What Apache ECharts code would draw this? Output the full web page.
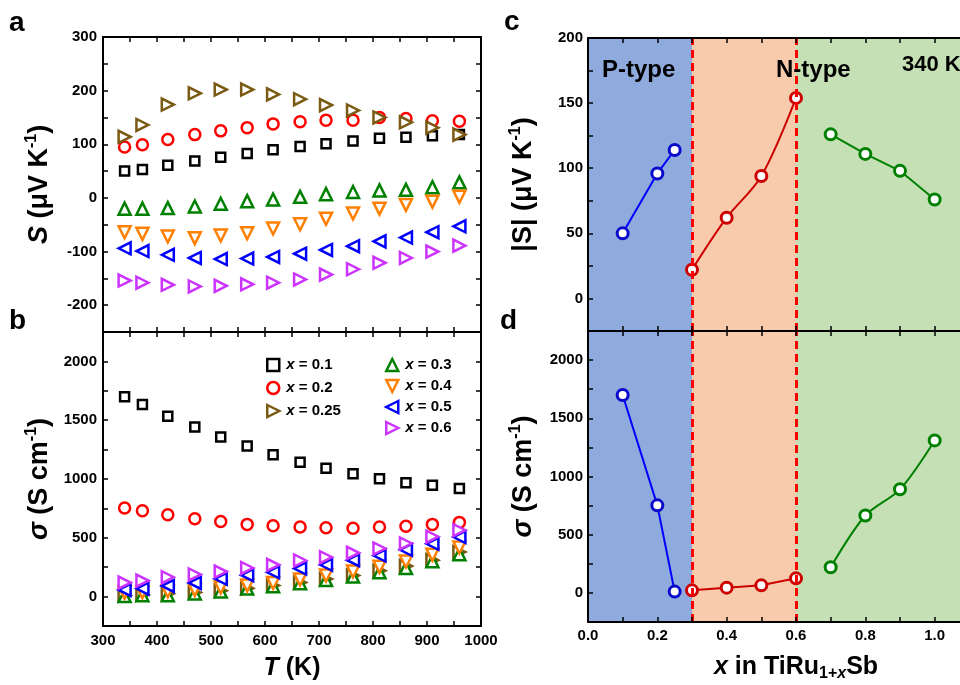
<!DOCTYPE html>
<html>
<head>
<meta charset="utf-8">
<script src="https://cdn.jsdelivr.net/npm/echarts@6/dist/echarts.min.js"></script>
<style>
  html, body { margin: 0; padding: 0; background: #ffffff; }
  #chart { width: 960px; height: 685px; }
</style>
</head>
<body>
<div id="chart"></div>
<script>
// Measurement temperatures (K)
const temperatureK = [340, 373, 420, 470, 518, 567, 615, 665, 713, 763, 812, 861, 910, 960];

// Seebeck coefficient S (μV K^-1) for each composition x
const seebeckX010 = [50, 53, 61, 69, 76, 83, 90, 96, 101, 106, 111, 113, 116, 118];
const seebeckX020 = [95, 99, 109, 118, 125, 131, 138, 142, 145, 145, 150, 148, 144, 143];
const seebeckX025 = [114, 136, 174, 195, 202, 202, 193, 184, 173, 163, 150, 141, 131, 118];
const seebeckX030 = [-20, -20, -19, -16, -11, -6, -3, 2, 7, 11, 14, 15, 20, 29];
const seebeckX040 = [-64, -67, -72, -75, -70, -66, -57, -49, -39, -29, -20, -13, -7, 2];
const seebeckX050 = [-94, -99, -106, -112, -114, -113, -110, -104, -97, -90, -81, -74, -64, -53];
const seebeckX060 = [-154, -158, -162, -165, -164, -161, -158, -152, -143, -133, -121, -112, -100, -89];

// Electrical conductivity σ (S cm^-1) for each composition x
const sigmaX010 = [1699, 1634, 1534, 1443, 1358, 1281, 1207, 1142, 1091, 1045, 1003, 969, 946, 920];
const sigmaX020 = [753, 730, 696, 662, 639, 614, 602, 591, 585, 582, 591, 599, 614, 631];
const sigmaX025 = [10, 15, 25, 35, 50, 70, 95, 120, 150, 180, 220, 260, 310, 380];
const sigmaX030 = [6, 11, 11, 26, 43, 68, 88, 114, 142, 170, 207, 244, 301, 361];
const sigmaX040 = [34, 37, 45, 57, 77, 94, 116, 145, 179, 213, 253, 298, 355, 418];
const sigmaX050 = [57, 68, 91, 116, 151, 182, 207, 239, 270, 310, 349, 398, 449, 506];
const sigmaX060 = [119, 136, 165, 188, 213, 244, 270, 307, 335, 372, 409, 452, 509, 565];

// 340 K values versus composition
const compP = [0.1, 0.2, 0.25];
const compN1 = [0.3, 0.4, 0.5, 0.6];
const compN2 = [0.7, 0.8, 0.9, 1.0];
const absS340P = [50, 96, 114];
const absS340N1 = [22, 62, 94, 154];
const absS340N2 = [126, 111, 98, 76];
const sigma340P = [1700, 752, 11];
const sigma340N1 = [22, 45, 65, 125];
const sigma340N2 = [220, 665, 890, 1310];

// Regions and boundaries along x
const regionP = [0, 0.3];
const regionN1 = [0.3, 0.6];
const regionN2 = [0.6, 1.2];
const boundaries = [0.3, 0.6];

const seriesNames = ['x = 0.1', 'x = 0.2', 'x = 0.25', 'x = 0.3', 'x = 0.4', 'x = 0.5', 'x = 0.6'];
const seebeckSets = [seebeckX010, seebeckX020, seebeckX025, seebeckX030, seebeckX040, seebeckX050, seebeckX060];
const sigmaSets = [sigmaX010, sigmaX020, sigmaX025, sigmaX030, sigmaX040, sigmaX050, sigmaX060];

const FONT = '"Liberation Sans", Arial, Helvetica, sans-serif';
const markerColors = ['#000000', '#ff0000', '#7a5a12', '#008000', '#ff8000', '#0000ff', '#cc33ff'];
const markerShapes = ['rect', 'circle', 'triangle', 'triangle', 'triangle', 'triangle', 'triangle'];
const markerRotate = [0, 0, -90, 0, 180, 90, -90];
const markerSizes = [9, 11, 12, 12, 12, 12, 12];
// Legend icons drawn in the same orientation as the plotted markers
const legendIcons = [
  'path://M0,0 L10,0 L10,10 L0,10 Z',
  'circle',
  'path://M0,0 L10,5 L0,10 Z',
  'path://M5,0 L10,10 L0,10 Z',
  'path://M0,0 L10,0 L5,10 Z',
  'path://M10,0 L0,5 L10,10 Z',
  'path://M0,0 L10,5 L0,10 Z'
];
const legendIconSizes = [10, 12, 12, 12, 12, 12, 12];

const chart = echarts.init(document.getElementById('chart'), null, { renderer: 'canvas' });

const tickLabelStyle = { color: '#000', fontFamily: FONT, fontWeight: 'bold', fontSize: 15 };

function makeAxis(cfg) {
  return {
    type: 'value',
    gridIndex: cfg.grid,
    position: cfg.position,
    min: cfg.min,
    max: cfg.max,
    interval: cfg.interval,
    z: 10,
    axisLine: { show: true, onZero: false, lineStyle: { color: '#000', width: 2 } },
    axisTick: { show: true, inside: true, length: 5, lineStyle: { color: '#000', width: 1.5 } },
    splitLine: { show: false },
    axisLabel: cfg.labels ? Object.assign({ show: true, margin: cfg.margin || 6, formatter: cfg.labels }, tickLabelStyle) : { show: false },
    name: cfg.name || '',
    nameLocation: 'middle',
    nameGap: cfg.nameGap || 0,
    nameTextStyle: cfg.nameStyle || {}
  };
}

const every100 = v => (Math.round(v) % 100 === 0 ? String(Math.round(v)) : '');
const every50 = v => (Math.round(v) % 50 === 0 ? String(Math.round(v)) : '');
const every500 = v => (Math.round(v) % 500 === 0 ? String(Math.round(v)) : '');
const everyTwoTenths = v => (Math.round(v * 10) % 2 === 0 ? v.toFixed(1) : '');

const TS = 27; // y-axis title size
const titleRich = {
  it: { fontFamily: FONT, fontWeight: 'bold', fontStyle: 'italic', fontSize: TS, lineHeight: 32 },
  rg: { fontFamily: FONT, fontWeight: 'bold', fontSize: TS, lineHeight: 32 },
  sup: { fontFamily: FONT, fontWeight: 'bold', fontSize: 16, lineHeight: 16, verticalAlign: 'top' }
};
const titleRichX = {
  it: { fontFamily: FONT, fontWeight: 'bold', fontStyle: 'italic', fontSize: 25, lineHeight: 30 },
  rg: { fontFamily: FONT, fontWeight: 'bold', fontSize: 25, lineHeight: 30 },
  sub: { fontFamily: FONT, fontWeight: 'bold', fontSize: 16, lineHeight: 16, verticalAlign: 'bottom' },
  subi: { fontFamily: FONT, fontWeight: 'bold', fontStyle: 'italic', fontSize: 16, lineHeight: 16, verticalAlign: 'bottom' }
};
const nameStyle = { color: '#000', fontFamily: FONT, fontWeight: 'bold', fontSize: TS, lineHeight: 32, rich: titleRich };
const nameStyleX = { color: '#000', fontFamily: FONT, fontWeight: 'bold', fontSize: 25, lineHeight: 30, rich: titleRichX };

const xAxes = [
  makeAxis({ grid: 0, position: 'bottom', min: 300, max: 1000, interval: 50 }),
  makeAxis({ grid: 0, position: 'top', min: 300, max: 1000, interval: 50 }),
  makeAxis({ grid: 1, position: 'bottom', min: 300, max: 1000, interval: 50, labels: every100, margin: 7,
             name: '{it|T}{rg| (K)}', nameGap: 27, nameStyle: nameStyleX }),
  makeAxis({ grid: 1, position: 'top', min: 300, max: 1000, interval: 50 }),
  makeAxis({ grid: 2, position: 'bottom', min: 0, max: 1.2, interval: 0.1 }),
  makeAxis({ grid: 2, position: 'top', min: 0, max: 1.2, interval: 0.1 }),
  makeAxis({ grid: 3, position: 'bottom', min: 0, max: 1.2, interval: 0.1, labels: everyTwoTenths, margin: 6,
             name: '{it|x}{rg| in TiRu}{sub|1+}{subi|x}{rg|Sb}', nameGap: 30, nameStyle: nameStyleX }),
  makeAxis({ grid: 3, position: 'top', min: 0, max: 1.2, interval: 0.1 })
];

const yAxes = [
  makeAxis({ grid: 0, position: 'left', min: -250, max: 300, interval: 50, labels: every100,
             name: '{it|S}{rg| (μV K}{sup|-1}{rg|)}', nameGap: 47, nameStyle }),
  makeAxis({ grid: 0, position: 'right', min: -250, max: 300, interval: 50 }),
  makeAxis({ grid: 1, position: 'left', min: -250, max: 2250, interval: 250, labels: every500,
             name: '{it|σ}{rg| (S cm}{sup|-1}{rg|)}', nameGap: 47, nameStyle }),
  makeAxis({ grid: 1, position: 'right', min: -250, max: 2250, interval: 250 }),
  makeAxis({ grid: 2, position: 'left', min: -25, max: 200, interval: 25, labels: every50, margin: 5,
             name: '{rg||S| (μV K}{sup|-1}{rg|)}', nameGap: 48, nameStyle }),
  makeAxis({ grid: 2, position: 'right', min: -25, max: 200, interval: 25 }),
  makeAxis({ grid: 3, position: 'left', min: -250, max: 2250, interval: 250, labels: every500, margin: 5,
             name: '{it|σ}{rg| (S cm}{sup|-1}{rg|)}', nameGap: 48, nameStyle }),
  makeAxis({ grid: 3, position: 'right', min: -250, max: 2250, interval: 250 })
];

const series = [];

// Temperature-dependent S and σ
seriesNames.forEach((name, k) => {
  const marker = {
    type: 'scatter',
    name: name,
    symbol: markerShapes[k],
    symbolRotate: markerRotate[k],
    symbolSize: markerSizes[k],
    itemStyle: { color: '#ffffff', borderColor: markerColors[k], borderWidth: 2.5, opacity: 1 },
    emphasis: { disabled: true },
    z: 3 + k
  };
  series.push(Object.assign({}, marker, {
    xAxisIndex: 0, yAxisIndex: 0,
    data: temperatureK.map((t, i) => [t, seebeckSets[k][i]])
  }));
  series.push(Object.assign({}, marker, {
    xAxisIndex: 2, yAxisIndex: 2,
    data: temperatureK.map((t, i) => [t, sigmaSets[k][i]])
  }));
});

// Composition panels: shaded conduction regimes and boundaries
function regimeBackground() {
  return {
    silent: true,
    data: [
      [{ xAxis: regionP[0], itemStyle: { color: '#8faadc' } }, { xAxis: regionP[1] }],
      [{ xAxis: regionN1[0], itemStyle: { color: '#f8cbad' } }, { xAxis: regionN1[1] }],
      [{ xAxis: regionN2[0], itemStyle: { color: '#c5e0b4' } }, { xAxis: regionN2[1] }]
    ]
  };
}
function regimeBoundaries() {
  return {
    silent: true,
    symbol: ['none', 'none'],
    label: { show: false },
    lineStyle: { color: '#ff0000', type: [8, 5], width: 3 },
    data: boundaries.map(b => ({ xAxis: b }))
  };
}

function compLine(xIdx, yIdx, xs, ys, color, lineColor, smooth, extra) {
  return Object.assign({
    type: 'line',
    xAxisIndex: xIdx, yAxisIndex: yIdx,
    data: xs.map((x, i) => [x, ys[i]]),
    smooth: smooth,
    symbol: 'circle',
    symbolSize: 11,
    showSymbol: true,
    lineStyle: { color: lineColor, width: 2 },
    itemStyle: { color: '#ffffff', borderColor: color, borderWidth: 3 },
    emphasis: { disabled: true },
    z: 4
  }, extra || {});
}

series.push(compLine(4, 4, compP, absS340P, '#0a0acc', '#0000ff', false,
  { markArea: regimeBackground(), markLine: regimeBoundaries() }));
series.push(compLine(4, 4, compN1, absS340N1, '#cc0000', '#cc0000', 0.35));
series.push(compLine(4, 4, compN2, absS340N2, '#008000', '#008000', false));

series.push(compLine(6, 6, compP, sigma340P, '#0a0acc', '#0000ff', false,
  { markArea: regimeBackground(), markLine: regimeBoundaries() }));
series.push(compLine(6, 6, compN1, sigma340N1, '#cc0000', '#cc0000', false));
series.push(compLine(6, 6, compN2, sigma340N2, '#008000', '#008000', 0.3));

const legendText = {
  color: '#000', fontFamily: FONT, fontWeight: 'bold', fontSize: 15, lineHeight: 16,
  padding: [0, 0, 0, 2],
  rich: {
    i: { fontFamily: FONT, fontWeight: 'bold', fontStyle: 'italic', fontSize: 15, lineHeight: 16 },
    r: { fontFamily: FONT, fontWeight: 'bold', fontSize: 15, lineHeight: 16 }
  }
};
const legendFormatter = name => '{i|x}{r| = ' + name.split('= ')[1] + '}';
const legendEntry = k => ({
  name: seriesNames[k],
  icon: legendIcons[k],
  itemStyle: { color: '#ffffff', borderColor: markerColors[k], borderWidth: 2.5 }
});

function panelLetter(text, x, y) {
  return { type: 'text', left: x, top: y, style: { text: text, fill: '#000', font: 'bold 28px ' + FONT } };
}
function annotation(text, x, y, size) {
  return { type: 'text', left: x, top: y, z: 20, style: { text: text, fill: '#000', font: 'bold ' + size + 'px ' + FONT } };
}

chart.setOption({
  animation: false,
  backgroundColor: '#ffffff',
  grid: [
    { left: 103, top: 37, width: 378, height: 295, outerBoundsMode: 'none' },
    { left: 103, top: 332, width: 378, height: 294, outerBoundsMode: 'none' },
    { left: 588, top: 38, width: 416, height: 293, outerBoundsMode: 'none' },
    { left: 588, top: 331, width: 416, height: 291, outerBoundsMode: 'none' }
  ],
  xAxis: xAxes,
  yAxis: yAxes,
  legend: [
    {
      data: [0, 1, 2].map(legendEntry), orient: 'vertical', left: 261, top: 352,
      itemWidth: 12, itemHeight: 12, itemGap: 7, textStyle: legendText, formatter: legendFormatter,
      selectedMode: false
    },
    {
      data: [3, 4, 5, 6].map(legendEntry), orient: 'vertical', left: 380, top: 352,
      itemWidth: 12, itemHeight: 12, itemGap: 5, textStyle: legendText, formatter: legendFormatter,
      selectedMode: false
    }
  ],
  graphic: [
    panelLetter('a', 9, 9),
    panelLetter('b', 9, 307),
    panelLetter('c', 504, 8),
    panelLetter('d', 500, 307),
    annotation('P-type', 602, 58, 24),
    annotation('N-type', 776, 58, 24),
    annotation('340 K', 902, 54, 22)
  ],
  series: series
});
</script>
</body>
</html>
